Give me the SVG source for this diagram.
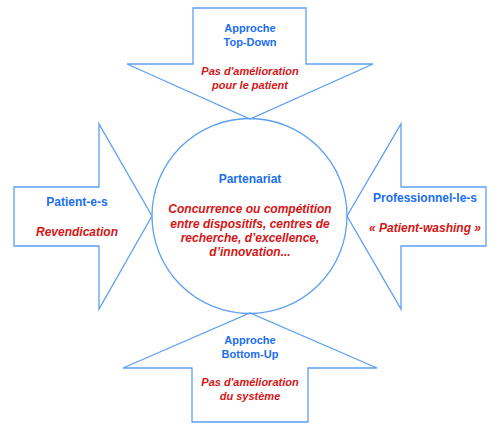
<svg xmlns="http://www.w3.org/2000/svg" width="500" height="434" viewBox="0 0 500 434">
<style>
.sh{fill:none;stroke:#5d9ff2;stroke-width:1.3;stroke-linejoin:miter}
.b{font-family:"Liberation Sans",Arial,sans-serif;font-weight:bold;font-size:12px;fill:#1a6ef0;text-anchor:middle}
.r{font-family:"Liberation Sans",Arial,sans-serif;font-weight:bold;font-style:italic;font-size:12px;fill:#d41515;text-anchor:middle}
.s{font-size:11px}
</style>
<rect width="500" height="434" fill="#fff"/>
<g id="center">
<circle class="sh" cx="249.5" cy="216" r="97.5"/>
<text class="b" x="250" y="183">Partenariat</text>
<text class="r" x="250" y="213">Concurrence ou compétition</text>
<text class="r" x="250" y="228">entre dispositifs, centres de</text>
<text class="r" x="250" y="242">recherche, d’excellence,</text>
<text class="r" x="250" y="256">d’innovation...</text>
</g>
<g id="top">
<path class="sh" d="M193,8 H306 V64 H373 L250,119 L127,64 H193 Z"/>
<text class="b s" x="250" y="32">Approche</text>
<text class="b s" x="250" y="46">Top-Down</text>
<text class="r s" x="250" y="75">Pas d'amélioration</text>
<text class="r s" x="250" y="89">pour le patient</text>
</g>
<g id="left">
<path class="sh" d="M14,187 H99 V124 L152,216 L99,309 V246 H14 Z"/>
<text class="b" x="77" y="206">Patient-e-s</text>
<text class="r" x="77" y="236">Revendication</text>
</g>
<g id="right">
<path class="sh" d="M486,187 H401 V124 L347,216 L401,309 V246 H486 Z"/>
<text class="b" x="425" y="202">Professionnel-le-s</text>
<text class="r" x="425" y="232">« Patient-washing »</text>
</g>
<g id="bottom">
<path class="sh" d="M192,422 H308 V368 H377 L250,313 L123,368 H192 Z"/>
<text class="b s" x="250" y="344">Approche</text>
<text class="b s" x="250" y="358">Bottom-Up</text>
<text class="r s" x="250" y="386">Pas d'amélioration</text>
<text class="r s" x="250" y="400">du système</text>
</g>
<g id="connectors"></g>
</svg>
